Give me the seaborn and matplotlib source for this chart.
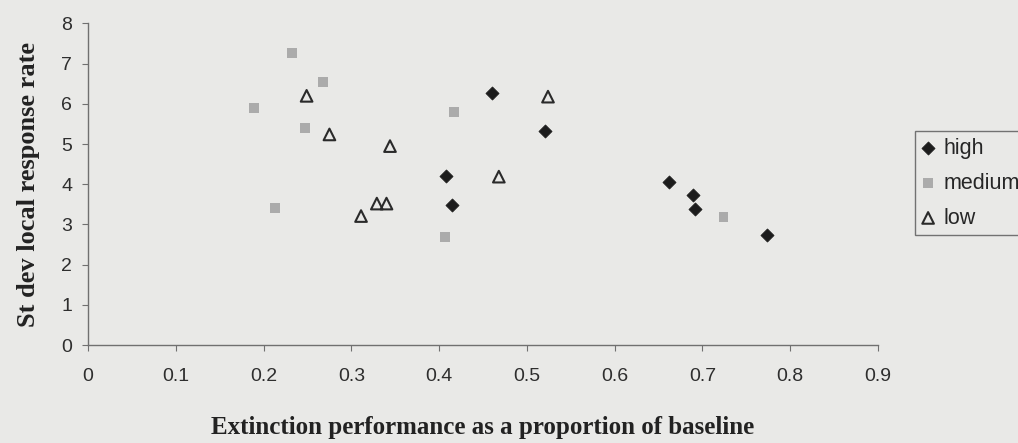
import pandas as pd
import seaborn as sns
import matplotlib.pyplot as plt

# extinction as proportion of baseline (x) vs st dev local response rate (y)
high_x = [0.460, 0.521, 0.408, 0.415, 0.662, 0.689, 0.692, 0.774]
high_y = [6.26, 5.33, 4.20, 3.48, 4.06, 3.73, 3.38, 2.75]
medium_x = [0.232, 0.268, 0.189, 0.247, 0.417, 0.407, 0.724, 0.213]
medium_y = [7.27, 6.55, 5.90, 5.41, 5.79, 2.69, 3.18, 3.42]
low_x = [0.249, 0.275, 0.344, 0.524, 0.468, 0.311, 0.329, 0.340]
low_y = [6.20, 5.24, 4.95, 6.18, 4.19, 3.21, 3.52, 3.52]

x_ticks = [0, 0.1, 0.2, 0.3, 0.4, 0.5, 0.6, 0.7, 0.8, 0.9]
y_ticks = [0, 1, 2, 3, 4, 5, 6, 7, 8]

bg = '#e9e9e7'

sns.set_style('ticks')
plt.rcParams['font.family'] = ['Liberation Sans', 'DejaVu Sans']

fig = plt.figure(figsize=(10.18, 4.43), dpi=100, facecolor=bg)
ax = fig.add_axes([0.0865, 0.221, 0.776, 0.726])
ax.set_facecolor(bg)

df_high = pd.DataFrame({'x': high_x, 'y': high_y})
df_medium = pd.DataFrame({'x': medium_x, 'y': medium_y})
df_low = pd.DataFrame({'x': low_x, 'y': low_y})

sns.scatterplot(data=df_high, x='x', y='y', marker='D', s=45, color='#1c1c1c',
                edgecolor='#1c1c1c', linewidth=0.5, label='high', ax=ax, zorder=3)
sns.scatterplot(data=df_medium, x='x', y='y', marker='s', s=50, color='#ababab',
                edgecolor='none', label='medium', ax=ax, zorder=3)
sns.scatterplot(data=df_low, x='x', y='y', marker='^', s=70, facecolor='none',
                edgecolor='#2a2a2a', linewidth=1.5, label='low', ax=ax, zorder=3)

ax.set_xlim(0, 0.9)
ax.set_ylim(0, 8)
ax.set_xticks(x_ticks)
ax.set_xticklabels([str(t) for t in x_ticks])
ax.set_yticks(y_ticks)

for side in ['top', 'right']:
    ax.spines[side].set_visible(False)
for side in ['left', 'bottom']:
    ax.spines[side].set_color('#707070')
    ax.spines[side].set_linewidth(1.0)

ax.tick_params(axis='both', colors='#707070', labelcolor='#2e2e2e',
               labelsize=14, length=4.5, width=0.8, direction='out')
ax.tick_params(axis='x', pad=12)
ax.tick_params(axis='y', pad=7)

ax.set_xlabel('Extinction performance as a proportion of baseline',
              family='Liberation Serif', fontweight='bold', fontsize=18,
              color='#222222', labelpad=22)
ax.set_ylabel('St dev local response rate', family='Liberation Serif',
              fontweight='bold', fontsize=19, color='#222222', labelpad=15)

leg = ax.legend(loc='upper left', bbox_to_anchor=(0.899, 0.704),
                bbox_transform=fig.transFigure, frameon=True, fancybox=False,
                fontsize=15.5, handletextpad=0.4, handlelength=0.6,
                borderpad=0.3, labelspacing=0.65, borderaxespad=0)
leg.get_frame().set_edgecolor('#555555')
leg.get_frame().set_facecolor(bg)
leg.get_frame().set_linewidth(1.0)

fig.savefig('out.png', dpi=100, facecolor=bg)
